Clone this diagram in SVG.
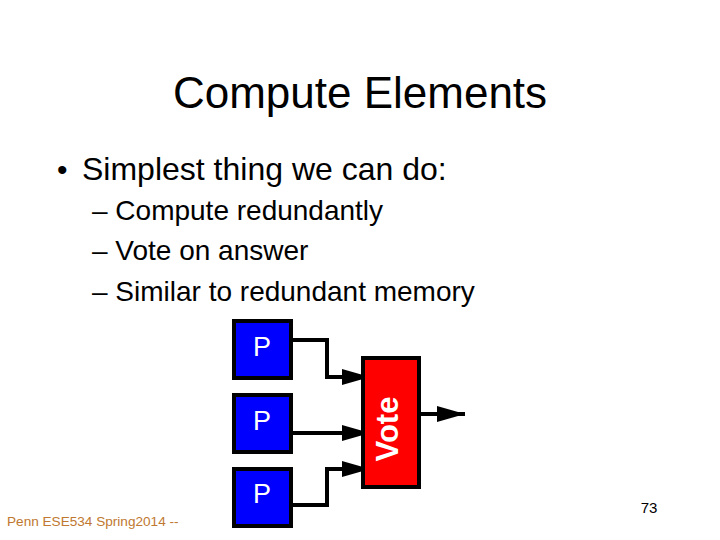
<svg xmlns="http://www.w3.org/2000/svg" width="720" height="540" viewBox="0 0 720 540">
<style>
text{font-family:"Liberation Sans",Arial,Helvetica,sans-serif}
.t{fill:#000}
.p rect{fill:#0000ff;stroke:#000;stroke-width:4}
.p text{font-size:27px;fill:#fff;text-anchor:middle}
.c{fill:none;stroke:#000;stroke-width:4}
.v{font-size:31px;font-weight:bold;fill:#fff;text-anchor:middle}
.f{font-size:13.6px;fill:#c07830}
</style>
<defs>
<marker id="ah" markerUnits="userSpaceOnUse" markerWidth="30" markerHeight="20" refX="28" refY="8" orient="auto">
<path d="M0,0 L28,8 L0,16 Z" fill="#000"/>
</marker>
</defs>
<rect width="720" height="540" fill="#fff"/>
<text class="t" x="360" y="108" font-size="44" text-anchor="middle">Compute Elements</text>
<text class="t" x="57" y="180" font-size="30">•</text>
<text class="t" x="82" y="180" font-size="32">Simplest thing we can do:</text>
<text class="t" x="92" y="220" font-size="28">– Compute redundantly</text>
<text class="t" x="92" y="260" font-size="28">– Vote on answer</text>
<text class="t" x="92" y="301" font-size="28">– Similar to redundant memory</text>
<g id="connectors">
<path class="c" d="M292,340 H327 V377 H370" marker-end="url(#ah)"/>
<path class="c" d="M292,433 H370" marker-end="url(#ah)"/>
<path class="c" d="M292,505 H327 V469 H370" marker-end="url(#ah)"/>
<path class="c" d="M420,414 H465" marker-end="url(#ah)"/>
</g>
<g id="p1" class="p"><rect x="234" y="321" width="57" height="57"/><text x="262" y="356">P</text></g>
<g id="p2" class="p"><rect x="234" y="395" width="57" height="57"/><text x="262" y="430">P</text></g>
<g id="p3" class="p"><rect x="234" y="469" width="57" height="57"/><text x="262" y="503">P</text></g>
<g id="vote"><rect x="363" y="358" width="56" height="129" fill="#ff0000" stroke="#000" stroke-width="4"/>
<text class="v" transform="translate(398,429) rotate(-90)">Vote</text></g>
<text class="f" x="7" y="526">Penn ESE534 Spring2014 --</text>
<text x="649" y="513" font-size="15" fill="#000" text-anchor="middle">73</text>
</svg>
